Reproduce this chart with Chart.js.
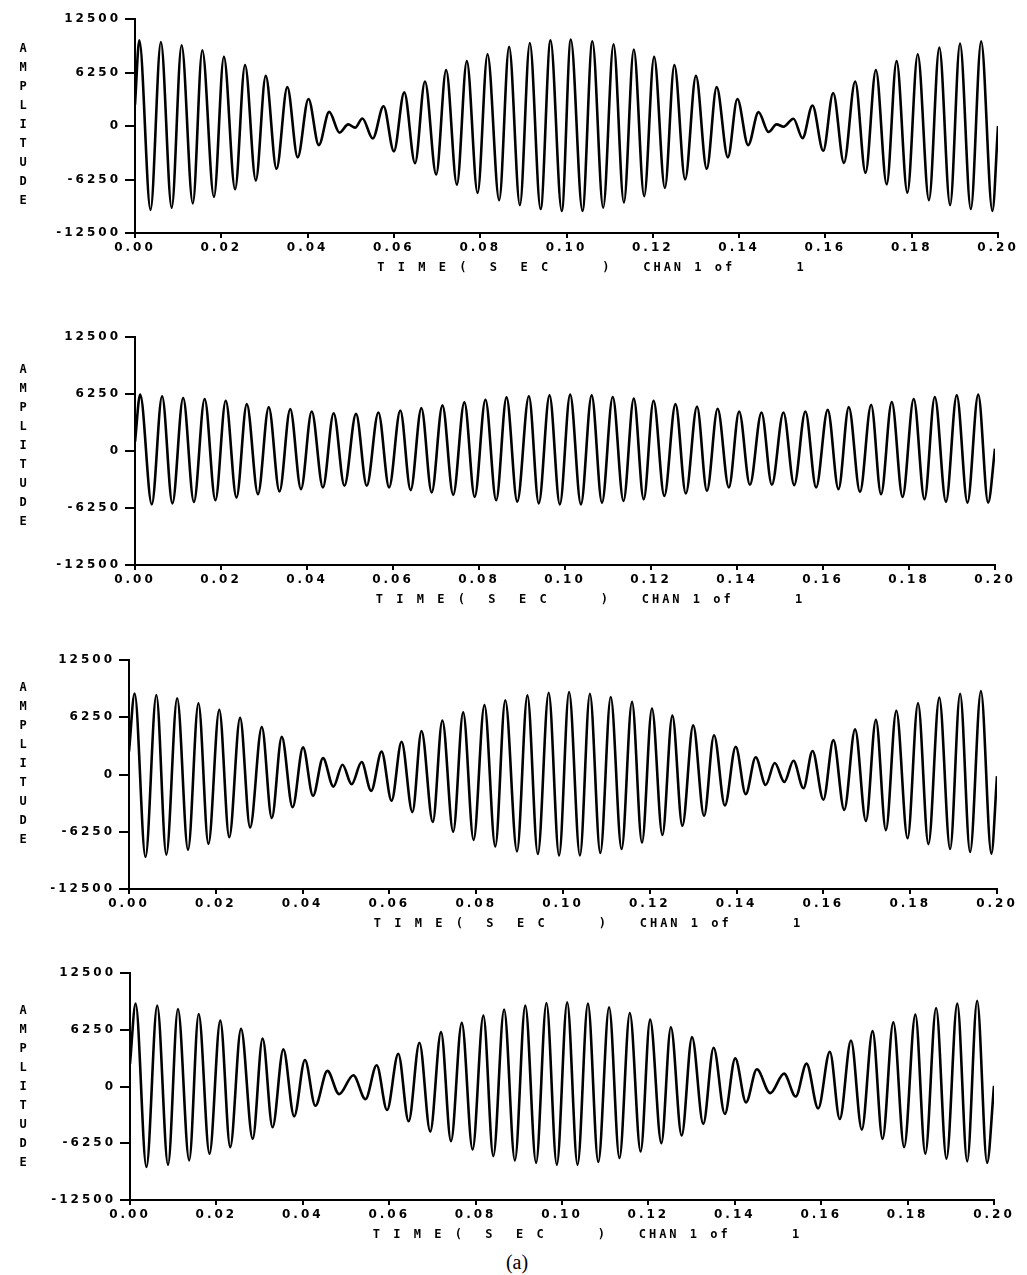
<!DOCTYPE html>
<html>
<head>
<meta charset="utf-8">
<script src="https://cdn.jsdelivr.net/npm/chart.js@4.4.1/dist/chart.umd.min.js"></script>
<style>
  body { margin: 0; background: #fff; }
  #page { position: relative; width: 1027px; height: 1275px; overflow: hidden; }
  .panel { position: absolute; left: 0; width: 1027px; }
  .ylab {
    position: absolute; width: 14px; left: 16px;
    font: bold 12px "DejaVu Sans Mono", monospace; line-height: 19px;
    text-align: center; word-break: break-all; color: #000;
  }
  .caption {
    position: absolute; left: 0; width: 1034px; top: 1251px; text-align: center;
    font: 20px "Liberation Serif", serif; color: #000;
  }
</style>
</head>
<body>
<div id="page"></div>
<script>
// tick values / labels
const xTickValues = [0, 0.02, 0.04, 0.06, 0.08, 0.10, 0.12, 0.14, 0.16, 0.18, 0.20];
const xTickLabels = ['0.00', '0.02', '0.04', '0.06', '0.08', '0.10', '0.12', '0.14', '0.16', '0.18', '0.20'];
const yTickValues = [-12500, -6250, 0, 6250, 12500];
const yTickLabels = ['-12500', '-6250', '0', '6250', '12500'];
const xTitle = '     T I M E (  S  E C     )   CHAN 1 of      1';
const yTitle = 'AMPLITUDE';

// panel 1 - peaks and troughs (time in sec, amplitude)
const time1 = [0, 0.0010, 0.0036, 0.0060, 0.0085, 0.0108, 0.0134, 0.0156, 0.0183, 0.0206,
  0.0232, 0.0255, 0.0280, 0.0303, 0.0328, 0.0353, 0.0377, 0.0402, 0.0426, 0.0450,
  0.0474, 0.0494, 0.0510, 0.0527, 0.0551, 0.0576, 0.0600, 0.0624, 0.0649, 0.0672,
  0.0698, 0.0721, 0.0746, 0.0769, 0.0794, 0.0817, 0.0844, 0.0867,
  0.0892, 0.0915, 0.0940, 0.0963, 0.0989, 0.1010, 0.1037, 0.1060, 0.1085, 0.1109,
  0.1133, 0.1156, 0.1180, 0.1203, 0.1228, 0.1250, 0.1275, 0.1300, 0.1325, 0.1348,
  0.1374, 0.1396, 0.1421, 0.1445, 0.1468, 0.1487, 0.1503, 0.1526, 0.1547, 0.1570,
  0.1595, 0.1618, 0.1643, 0.1669, 0.1693, 0.1717, 0.1742, 0.1765, 0.1790, 0.1814,
  0.1840, 0.1864, 0.1889, 0.1912, 0.1937, 0.1961, 0.1987, 0.2000];
const amp1 = [2500, 10000, -9800, 9800, -9550, 9430, -9050, 8850, -8280, 8080,
  -7390, 7120, -6350, 5850, -5000, 4540, -3660, 3160, -2230, 1650,
  -770, 190, -190, 880, -1460, 2310, -2960, 3930, -4350, 5200,
  -5660, 6550, -6850, 7580, -7820, 8390, -8660, 9240,
  -9240, 9700, -9700, 10000, -9930, 10090, -9930, 9900, -9550, 9550,
  -8930, 8930, -8200, 8080, -7240, 7120, -6240, 5850, -5000, 4540,
  -3660, 3160, -2230, 1620, -690, 190, -80, 850, -1420, 2390,
  -2890, 3850, -4310, 5200, -5470, 6550, -6810, 7580, -7780, 8390,
  -8660, 9160, -9240, 9620, -9700, 9890, -9930, 0];

// panel 2
const time2 = [0, 0.0012, 0.0039, 0.0063, 0.0087, 0.0112, 0.0137, 0.0162, 0.0187, 0.0211, 0.0236,
  0.0260, 0.0286, 0.0311, 0.0336, 0.0361, 0.0386, 0.0411, 0.0437, 0.0462, 0.0487,
  0.0514, 0.0539, 0.0566, 0.0591, 0.0617, 0.0641, 0.0666, 0.0690, 0.0715, 0.0740,
  0.0766, 0.0790, 0.0815, 0.0840, 0.0864, 0.0889,
  0.0916, 0.0939, 0.0964, 0.0988, 0.1012, 0.1037, 0.1062, 0.1086, 0.1111, 0.1136,
  0.1160, 0.1183, 0.1206, 0.1231, 0.1257, 0.1281, 0.1307, 0.1330, 0.1355, 0.1381,
  0.1405, 0.1430, 0.1457, 0.1481, 0.1508, 0.1533, 0.1559, 0.1584, 0.1611, 0.1636,
  0.1660, 0.1686, 0.1712, 0.1735, 0.1760, 0.1785, 0.1811, 0.1836, 0.1860, 0.1886,
  0.1911, 0.1936, 0.1961, 0.1984, 0.2000];
const amp2 = [1000, 6180, -5850, 6000, -5740, 5810, -5590, 5700, -5400, 5510, -5110,
  5140, -4740, 4810, -4440, 4590, -4180, 4330, -4000, 4140, -3810,
  4070, -3810, 4220, -4000, 4440, -4290, 4700, -4550, 5000, -4810,
  5330, -5030, 5620, -5400, 5880, -5550,
  6000, -5740, 6100, -5850, 6180, -5850, 6100, -5660, 5920, -5480,
  5740, -5290, 5510, -4920, 5140, -4660, 4880, -4370, 4630, -4000,
  4330, -3700, 4220, -3700, 4220, -3740, 4330, -4000, 4510, -4180,
  4810, -4480, 5070, -4740, 5370, -5030, 5700, -5290, 5920, -5550,
  6100, -5660, 6180, -5660, 260];

// panel 3
const time3 = [0, 0.0013, 0.0038, 0.0063, 0.0086, 0.0111, 0.0136, 0.0160, 0.0183, 0.0208, 0.0231,
  0.0256, 0.0279, 0.0306, 0.0329, 0.0352, 0.0377, 0.0401, 0.0424, 0.0447, 0.0471,
  0.0492, 0.0513, 0.0536, 0.0558, 0.0582, 0.0605, 0.0628, 0.0653, 0.0674, 0.0700,
  0.0722, 0.0747, 0.0770, 0.0794, 0.0819, 0.0844, 0.0867, 0.0894,
  0.0918, 0.0942, 0.0967, 0.0991, 0.1014, 0.1039, 0.1062, 0.1086, 0.1110, 0.1135,
  0.1159, 0.1182, 0.1205, 0.1229, 0.1252, 0.1275, 0.1300, 0.1325, 0.1348, 0.1373,
  0.1398, 0.1421, 0.1444, 0.1467, 0.1488, 0.1510, 0.1531, 0.1554, 0.1575, 0.1600,
  0.1623, 0.1648, 0.1673, 0.1698, 0.1721, 0.1744, 0.1768, 0.1794, 0.1818, 0.1842,
  0.1867, 0.1892, 0.1915, 0.1938, 0.1963, 0.1987, 0.2000];
const amp3 = [2500, 8850, -9000, 8680, -8750, 8320, -8210, 7780, -7570, 7070, -6850,
  6180, -5780, 5180, -4750, 4110, -3570, 2960, -2320, 1790, -1320,
  1070, -1070, 1360, -1790, 2500, -2860, 3570, -4110, 4750, -5180,
  5890, -6250, 6780, -7140, 7570, -7850, 8100, -8390,
  8640, -8680, 8930, -8850, 9000, -8850, 8820, -8570, 8460, -8140,
  7930, -7430, 7210, -6600, 6430, -5600, 5360, -4530, 4280, -3390,
  3030, -2140, 1890, -1140, 1250, -820, 1500, -1500, 2570, -2750,
  3750, -3860, 4930, -5070, 5960, -6070, 6960, -6960, 7780, -7600,
  8390, -8140, 8820, -8460, 9100, -8640, -180];

// panel 4
const time4 = [0, 0.0013, 0.0038, 0.0063, 0.0088, 0.0111, 0.0137, 0.0159, 0.0184, 0.0209, 0.0232,
  0.0257, 0.0284, 0.0307, 0.0330, 0.0355, 0.0380, 0.0405, 0.0429, 0.0457, 0.0484,
  0.0517, 0.0545, 0.0571, 0.0595, 0.0621, 0.0645, 0.0670, 0.0695, 0.0720, 0.0743,
  0.0768, 0.0793, 0.0818, 0.0841, 0.0866, 0.0891,
  0.0915, 0.0940, 0.0964, 0.0988, 0.1012, 0.1036, 0.1060, 0.1084, 0.1109, 0.1133,
  0.1157, 0.1182, 0.1204, 0.1230, 0.1252, 0.1277, 0.1301, 0.1327, 0.1351, 0.1377,
  0.1401, 0.1426, 0.1451, 0.1482, 0.1514, 0.1541, 0.1566, 0.1593, 0.1620, 0.1643,
  0.1669, 0.1694, 0.1719, 0.1742, 0.1767, 0.1792, 0.1818, 0.1841, 0.1866, 0.1890,
  0.1915, 0.1938, 0.1961, 0.1984, 0.2000];
const amp4 = [2500, 9130, -8870, 8910, -8610, 8540, -8140, 7990, -7410, 7260, -6680,
  6350, -5770, 5290, -4490, 4090, -3290, 2920, -2120, 1720, -840,
  1240, -1390, 2340, -2590, 3610, -3830, 4820, -4960, 5990, -6020,
  7010, -6940, 7810, -7670, 8470, -8140,
  8910, -8400, 9200, -8610, 9270, -8610, 9130, -8320, 8720, -7880,
  8100, -7150, 7370, -6240, 6530, -5400, 5440, -4120, 4270, -3030,
  3100, -1750, 1900, -730, 1420, -1100, 2520, -2410, 3830, -3580,
  5070, -4750, 6100, -5770, 7080, -6680, 7920, -7410, 8650, -7960,
  9130, -8250, 9450, -8400, 70];

// where each plot sits on the page (chart area edges in px)
const panels = [
  { time: time1, amp: amp1, left: 135, right: 998, top: 19, bottom: 233, labelMid: 124 },
  { time: time2, amp: amp2, left: 135, right: 995, top: 337, bottom: 565, labelMid: 445 },
  { time: time3, amp: amp3, left: 129, right: 997, top: 660, bottom: 889, labelMid: 763 },
  { time: time4, amp: amp4, left: 130, right: 994, top: 973, bottom: 1200, labelMid: 1086 }
];

const PAD_TOP = 12;
const X_AXIS_H = 50;

// plotter-like wide lettering
const spacing = {
  id: 'spacing',
  beforeDraw(chart) { chart.ctx.letterSpacing = '3px'; }
};

const page = document.getElementById('page');

panels.forEach((p) => {
  const box = document.createElement('div');
  box.className = 'panel';
  const h = p.bottom - p.top + PAD_TOP + X_AXIS_H;
  box.style.top = (p.top - PAD_TOP) + 'px';
  box.style.height = h + 'px';
  const canvas = document.createElement('canvas');
  canvas.width = 1027;
  canvas.height = h;
  box.appendChild(canvas);
  page.appendChild(box);

  const lab = document.createElement('div');
  lab.className = 'ylab';
  lab.textContent = yTitle;
  lab.style.top = (p.labelMid - yTitle.length * 19 / 2) + 'px';
  page.appendChild(lab);

  new Chart(canvas.getContext('2d'), {
    type: 'line',
    data: {
      datasets: [{
        data: p.time.map((t, i) => ({ x: t, y: p.amp[i] })),
        borderColor: '#000',
        borderWidth: 2.6,
        pointRadius: 0,
        fill: false,
        cubicInterpolationMode: 'monotone'
      }]
    },
    options: {
      responsive: false,
      animation: false,
      devicePixelRatio: 1,
      layout: { padding: { top: PAD_TOP, right: 1027 - p.right, bottom: 0, left: 0 } },
      plugins: { legend: { display: false }, tooltip: { enabled: false } },
      scales: {
        x: {
          type: 'linear',
          min: 0,
          max: 0.2,
          afterBuildTicks: (s) => { s.ticks = xTickValues.map(v => ({ value: v })); },
          afterFit: (s) => { s.height = X_AXIS_H; },
          border: { display: true, color: '#000', width: 2 },
          grid: { drawOnChartArea: false, drawTicks: true, tickLength: 5, color: '#000', lineWidth: 2 },
          ticks: {
            color: '#000',
            padding: 3,
            maxRotation: 0,
            autoSkip: false,
            font: { family: 'DejaVu Sans', size: 12, weight: 'bold' },
            callback: (v, i) => xTickLabels[i]
          },
          title: {
            display: true,
            text: xTitle,
            color: '#000',
            font: { family: 'DejaVu Sans Mono', size: 12, weight: 'bold' },
            padding: { top: 0, bottom: 8 }
          }
        },
        y: {
          min: -12500,
          max: 12500,
          afterBuildTicks: (s) => { s.ticks = yTickValues.map(v => ({ value: v })); },
          afterFit: (s) => { s.width = p.left; },
          border: { display: true, color: '#000', width: 2 },
          grid: { drawOnChartArea: false, drawTicks: true, tickLength: 10, color: '#000', lineWidth: 2 },
          ticks: {
            color: '#000',
            padding: 4,
            font: { family: 'DejaVu Sans', size: 12, weight: 'bold' },
            callback: (v, i) => yTickLabels[i]
          }
        }
      }
    },
    plugins: [spacing]
  });
});

const cap = document.createElement('div');
cap.className = 'caption';
cap.textContent = '(a)';
page.appendChild(cap);
</script>
</body>
</html>
